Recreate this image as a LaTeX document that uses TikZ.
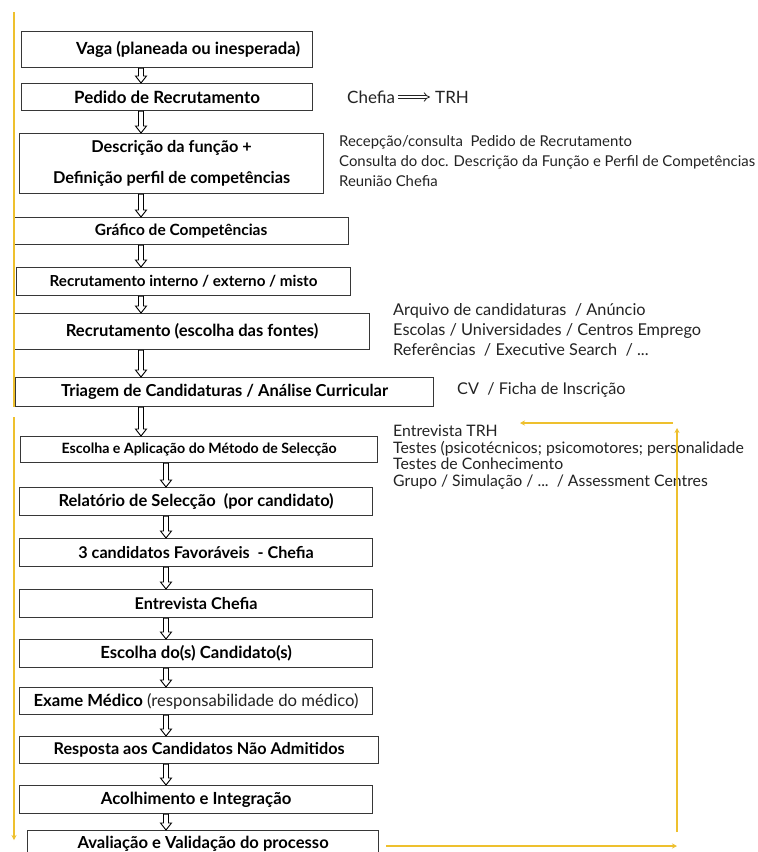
\documentclass[tikz,border=0pt]{standalone}
\usepackage{fontspec}
\setmainfont{Lato}
\usepackage{tikz}
\usetikzlibrary{calc,positioning,arrows.meta}

\definecolor{boxline}{RGB}{55,55,55}
\definecolor{gold}{RGB}{238,192,46}
\definecolor{notetext}{RGB}{35,35,35}

\tikzset{
    stage/.style={draw=boxline, line width=1.2pt, anchor=north west, inner sep=0pt, align=center,
        font=\bfseries\fontsize{#1}{#1}\selectfont},
    stage/.default=16.5,
    stagearrow/.style={draw=black, line width=0.9pt,
        to path={let \p1=(\tikztostart), \p2=(\tikztotarget) in
            (\x1-2.5pt,\y1) -- (\x1-2.5pt,\y2+7pt) -- (\x1-5.5pt,\y2+7pt) -- (\x1,\y2)
            -- (\x1+5.5pt,\y2+7pt) -- (\x1+2.5pt,\y2+7pt) -- (\x1+2.5pt,\y1) -- cycle}},
    note/.style={anchor=west, align=left, inner sep=0pt, text=notetext},
    goldline/.style={draw=gold, line width=2pt},
    goldflow/.style={goldline, -{Stealth[length=5pt, width=5pt]}},
}

\begin{document}
\begin{tikzpicture}[x=1pt, y=-1pt]
    \path[fill=white, use as bounding box] (0,0) rectangle (758,852);

    % main column
    \node[stage=16.7, minimum width=291pt, minimum height=36pt] (vaga) at (21,31) {\hspace*{42pt}Vaga (planeada ou inesperada)};
    \node[stage=16.9, minimum width=291pt, minimum height=27pt] (pedido) at (21,83) {Pedido de Recrutamento};
    \node[stage=16.3, minimum width=304pt, minimum height=60pt] (descricao) at (19,133) {Descrição da função +\\[14.7pt] Definição perfil de competências};
    \node[stage=15.5, minimum width=335pt, minimum height=27pt] (grafico) at (13,217) {Gráfico de Competências};
    \node[stage=15.2, minimum width=334pt, minimum height=28pt] (recinterno) at (16,267) {Recrutamento interno / externo / misto};
    \node[stage=16.6, minimum width=355pt, minimum height=36pt] (recfontes) at (14,313) {Recrutamento (escolha das fontes)};
    \node[stage=16.5, minimum width=418pt, minimum height=29pt] (triagem) at (15,377) {Triagem de Candidaturas / Análise Curricular};

    \node[stage=14.2, minimum width=357pt, minimum height=26pt] (metodo) at (20,436) {Escolha e Aplicação do Método de Selecção};
    \node[stage=16.5, minimum width=353pt, minimum height=28pt] (relatorio) at (19,487) {Relatório de Selecção~~(por candidato)};
    \node[stage=16.2, minimum width=353pt, minimum height=28pt] (favoraveis) at (19,538) {3 candidatos Favoráveis~~- Chefia};
    \node[stage=16.2, minimum width=353pt, minimum height=28pt] (entrevista) at (19,589) {Entrevista Chefia};
    \node[stage=16.7, minimum width=353pt, minimum height=28pt] (escolha) at (19,639) {Escolha do(s) Candidato(s)};
    \node[stage=16.7, minimum width=353pt, minimum height=27pt] (exame) at (19,687) {Exame Médico {\mdseries\color{notetext}(responsabilidade do médico)}};
    \node[stage=16.2, minimum width=359pt, minimum height=27pt] (resposta) at (19,736) {Resposta aos Candidatos Não Admitidos};
    \node[stage=16.7, minimum width=353pt, minimum height=28pt] (acolhimento) at (19,785) {Acolhimento e Integração};
    \node[stage=16.6, minimum width=351pt, minimum height=26pt] (avaliacao) at (27,830) {Avaliação e Validação do processo};

    % hollow arrows between the steps
    \coordinate (upcol) at (141,0);
    \coordinate (lowcol) at (166,0);
    \draw[stagearrow] (vaga.south -| upcol) to (pedido.north -| upcol);
    \draw[stagearrow] (pedido.south -| upcol) to (descricao.north -| upcol);
    \draw[stagearrow] (descricao.south -| upcol) to (grafico.north -| upcol);
    \draw[stagearrow] (grafico.south -| upcol) to (recinterno.north -| upcol);
    \draw[stagearrow] (recinterno.south -| upcol) to (recfontes.north -| upcol);
    \draw[stagearrow] (recfontes.south -| upcol) to (triagem.north -| upcol);
    \draw[stagearrow] (triagem.south -| upcol) to (metodo.north -| upcol);
    \draw[stagearrow] (metodo.south -| lowcol) to (relatorio.north -| lowcol);
    \draw[stagearrow] (relatorio.south -| lowcol) to (favoraveis.north -| lowcol);
    \draw[stagearrow] (favoraveis.south -| lowcol) to (entrevista.north -| lowcol);
    \draw[stagearrow] (entrevista.south -| lowcol) to (escolha.north -| lowcol);
    \draw[stagearrow] (escolha.south -| lowcol) to (exame.north -| lowcol);
    \draw[stagearrow] (exame.south -| lowcol) to (resposta.north -| lowcol);
    \draw[stagearrow] (resposta.south -| lowcol) to (acolhimento.north -| lowcol);
    \draw[stagearrow] (acolhimento.south -| lowcol) to (avaliacao.north -| lowcol);

    % side notes
    \node[note, font=\fontsize{17}{20}\selectfont] (chefia) at (347,97) {Chefia};
    \node[note, font=\fontsize{17}{20}\selectfont] (trh) at (435,97) {TRH};
    \draw[draw=notetext, double, double distance=2.4pt, line width=0.8pt, -Implies, shorten <=3pt, shorten >=5pt] (chefia) -- (trh);

    \node[note, font=\fontsize{14.9}{20}\selectfont] (consulta) at (339,161) {Recepção/consulta~~Pedido de Recrutamento\\ Consulta do doc. Descrição da Função e Perfil de Competências\\ Reunião Chefia};
    \node[note, font=\fontsize{16.3}{20}\selectfont] (fontes) at (393,330) {Arquivo de candidaturas~~/ Anúncio\\ Escolas / Universidades / Centros Emprego\\ Referências~~/ Executive Search~~/ ...};
    \node[note, font=\fontsize{16.2}{18}\selectfont] (ficha) at (457,390) {CV~~/ Ficha de Inscrição};
    \node[note, font=\fontsize{15.8}{16.6}\selectfont] (metodos) at (393,457) {Entrevista TRH\\ Testes (psicotécnicos; psicomotores; personalidade\\ Testes de Conhecimento\\ Grupo / Simulação / ...~~/ Assessment Centres};

    % yellow process lines
    \coordinate (railtop) at (14,12);
    \coordinate (railbreak) at (14,407);
    \coordinate (railrestart) at (14,417);
    \coordinate (railend) at (14,840);
    \draw[goldline] (railtop) -- (railbreak);
    \draw[goldflow] (railrestart) -- (railend);

    \coordinate (backstart) at (386,846);
    \coordinate (backcorner) at (677,846);
    \coordinate (backfoot) at (677,832);
    \coordinate (backtop) at (677,428);
    \coordinate (backturn) at (673,423);
    \coordinate (backend) at (520,423);
    \draw[goldflow] (backstart) -- (backcorner);
    \draw[goldflow] (backfoot) -- (backtop);
    \draw[goldflow] (backturn) -- (backend);

\end{tikzpicture}
\end{document}
